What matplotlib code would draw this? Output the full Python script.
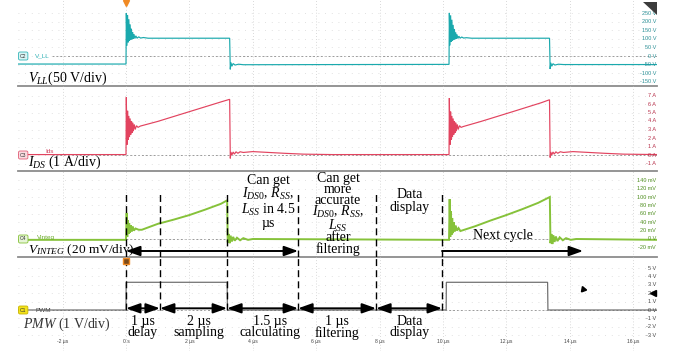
import matplotlib
matplotlib.use("Agg")
import matplotlib.pyplot as plt
from matplotlib.patches import Polygon

# ---- values (time in µs) ----
vll_t = [-3.45, 0.0, 0.01, 0.03, 0.05, 0.07, 0.09, 0.11, 0.13, 0.15, 0.17, 0.19, 0.21, 0.23, 0.25,
         0.28, 0.31, 0.35, 0.40, 0.46, 0.55, 0.70, 3.27, 3.29, 3.31, 3.34, 3.38, 3.44, 3.55, 3.70,
         10.19, 10.20, 10.22, 10.24, 10.26, 10.28, 10.30, 10.32, 10.34, 10.36, 10.38, 10.40, 10.42,
         10.44, 10.47, 10.50, 10.54, 10.59, 10.65, 10.74, 10.90, 13.36, 13.38, 13.40, 13.43, 13.47,
         13.53, 13.64, 13.80, 16.80]
vll_v = [-47, -47, 250, 60, 240, 80, 215, 90, 185, 95, 160, 98, 140, 100, 128,
         102, 118, 104, 112, 105, 108, 104, 104, -78, -38, -60, -44, -53, -48, -51,
         -49, 252, 62, 238, 82, 212, 90, 182, 95, 158, 98, 138, 100,
         126, 102, 116, 104, 111, 105, 107, 104, 104, -76, -40, -60, -45,
         -53, -48, -50, -50]

ids_t = [-3.45, 0.0, 0.01, 0.03, 0.05, 0.07, 0.09, 0.11, 0.13, 0.15, 0.17, 0.19, 0.21, 0.23, 0.26,
         0.29, 0.33, 0.38, 0.45, 1.0, 2.0, 3.0, 3.27, 3.29, 3.31, 3.34, 3.38, 3.42, 3.47, 3.53,
         3.60, 3.70, 4.0, 4.5, 5.0, 5.6, 6.5, 10.19, 10.20, 10.22, 10.24, 10.26, 10.28, 10.30,
         10.32, 10.34, 10.36, 10.38, 10.40, 10.42, 10.45, 10.48, 10.52, 10.57, 10.64, 11.2, 12.2,
         13.1, 13.36, 13.38, 13.40, 13.43, 13.47, 13.51, 13.56, 13.62, 13.70, 13.80, 14.1, 14.6,
         15.1, 15.7, 16.80]
ids_a = [0.05, 0.05, 6.8, 1.2, 5.2, 1.8, 4.6, 2.1, 4.3, 2.4, 4.0, 2.6, 3.8, 2.8, 3.6,
         3.0, 3.45, 3.25, 3.4, 3.95, 5.1, 6.25, 6.55, -0.4, 0.35, 0.0, 0.35, 0.1, 0.38, 0.2,
         0.38, 0.3, 0.4, 0.3, 0.2, 0.1, 0.05, 0.05, 6.7, 1.2, 5.1, 1.8, 4.6, 2.1,
         4.3, 2.4, 4.0, 2.6, 3.8, 2.8, 3.6, 3.0, 3.45, 3.25, 3.35, 3.95, 5.1,
         6.15, 6.5, -0.3, 0.35, 0.0, 0.35, 0.1, 0.38, 0.2, 0.38, 0.3, 0.4, 0.3,
         0.2, 0.1, 0.05]

integ_t = [-3.45, 0.0, 0.02, 0.04, 0.06, 0.08, 0.10, 0.12, 0.15, 0.18, 0.21, 0.25, 0.30, 0.40,
           0.5, 1.0, 1.5, 2.0, 2.5, 3.0, 3.19, 3.21, 3.24, 3.27, 3.30, 3.34, 3.38, 3.43, 3.50,
           3.60, 3.70, 3.85, 4.0, 10.19, 10.21, 10.23, 10.25, 10.27, 10.29, 10.31, 10.34, 10.37,
           10.40, 10.44, 10.49, 10.55, 11.0, 11.5, 12.0, 12.5, 13.0, 13.37, 13.39, 13.42, 13.45,
           13.48, 13.52, 13.56, 13.61, 13.68, 13.78, 13.88, 14.03, 14.2, 16.80]
integ_mv = [-2, -2, 62, 5, 45, 12, 38, 15, 33, 18, 30, 20, 25, 22,
            22, 36, 46, 57, 70, 84, 92, -8, 12, -10, 8, -6, 5, -4, 3,
            -3, 2, -2, 0, -2, 95, 5, 66, 10, 50, 14, 40, 18,
            32, 20, 26, 19, 30, 44, 57, 71, 86, 100, -10, 12, -12, 9,
            -7, 6, -5, 4, -3, 2, -2, 0, -2]

pwm_t = [-3.45, 0.0, 0.005, 3.19, 3.20, 10.10, 10.105, 13.30, 13.31, 16.80]
pwm_v = [0.0, 0.0, 3.3, 3.3, 0.0, 0.0, 3.3, 3.3, 0.0, 0.0]

vll_ticks = [250, 200, 150, 100, 50, 0, -50, -100, -150]
vll_labels = ["250 V", "200 V", "150 V", "100 V", "50 V", "0 V", "-50 V", "-100 V", "-150 V"]
ids_ticks = [7, 6, 5, 4, 3, 2, 1, 0, -1]
ids_labels = ["7 A", "6 A", "5 A", "4 A", "3 A", "2 A", "1 A", "0 A", "-1 A"]
integ_ticks = [140, 120, 100, 80, 60, 40, 20, 0, -20]
integ_labels = ["140 mV", "120 mV", "100 mV", "80 mV", "60 mV", "40 mV", "20 mV", "0 V", "-20 mV"]
pwm_ticks = [5, 4, 3, 2, 1, 0, -1, -2, -3]
pwm_labels = ["5 V", "4 V", "3 V", "2 V", "1 V", "0 V", "-1 V", "-2 V", "-3 V"]
time_ticks = [-2, 0, 2, 4, 6, 8, 10, 12, 14, 16]
time_labels = ["-2 µs", "0 s", "2 µs", "4 µs", "6 µs", "8 µs", "10 µs", "12 µs", "14 µs", "16 µs"]

phase_edges = [0.0, 1.07, 3.19, 5.43, 7.89, 9.97]
phase_names = ["1 µs\ndelay", "2 µs\nsampling", "1.5 µs\ncalculating", "1 µs\nfiltering",
               "Data\ndisplay"]
next_cycle_end = 14.42

# ---- layout in pixels of the 676x351 capture ----
W, H = 676, 351
LEFT, RIGHT = 18, 657
T0_PX, PX_PER_US = 126, 31.7

plt.rcParams["font.family"] = ["Liberation Sans", "DejaVu Sans"]
plt.rcParams["mathtext.fontset"] = "custom"
plt.rcParams["mathtext.rm"] = "Liberation Serif"
plt.rcParams["mathtext.it"] = "Liberation Serif:italic"
plt.rcParams["mathtext.bf"] = "Liberation Serif:bold"

SERIF = ["Liberation Serif", "DejaVu Serif"]

fig = plt.figure(figsize=(W / 100, H / 100), dpi=100)


def x_at(px):
    return (px - T0_PX) / PX_PER_US


def fig_xy(px, py):
    return px / W, 1 - py / H


def make_panel(top, bottom, zero_px, px_per_unit, ticks, sep=True):
    ax = fig.add_axes([LEFT / W, 1 - bottom / H, (RIGHT - LEFT) / W, (bottom - top) / H])
    ax.set_xlim(x_at(LEFT), x_at(RIGHT))
    ax.set_ylim((zero_px - bottom) / px_per_unit, (zero_px - top) / px_per_unit)
    ax.set_facecolor("none")
    ax.set_xticks(time_ticks)
    ax.set_yticks(ticks)
    ax.tick_params(length=0, labelbottom=False, labelleft=False)
    ax.xaxis.grid(True, color="#cccccc", lw=0.6, ls=(0, (1, 2.5)))
    ax.yaxis.grid(True, color="#d6d6d6", lw=0.6, ls=(0, (1, 7)))
    for name, sp in ax.spines.items():
        sp.set_visible(sep and name == "bottom")
    ax.spines["bottom"].set_color("#8c8c8c")
    ax.spines["bottom"].set_linewidth(1.3)
    return ax


def frac(ax, v):
    lo, hi = ax.get_ylim()
    return (v - lo) / (hi - lo)


ax1 = make_panel(0, 86, 56, 8.55 / 50, vll_ticks)
ax2 = make_panel(86, 171, 155, 8.5, ids_ticks)
ax3 = make_panel(171, 257, 239, 8.4 / 20, integ_ticks)
ax4 = make_panel(257, 351, 310, 8.4, pwm_ticks, sep=False)

channels = [
    (ax1, vll_t, vll_v, "#1aa9ad", vll_ticks, vll_labels, "#2a8f96", "C2", "#d9f4f4", "#35b5b8"),
    (ax2, ids_t, ids_a, "#e2435f", ids_ticks, ids_labels, "#b8304a", "C3", "#fadbe0", "#e06078"),
    (ax3, integ_t, integ_mv, "#86c23a", integ_ticks, integ_labels, "#4f8f1f", "C4", "#e6f4d6", "#86c23a"),
    (ax4, pwm_t, pwm_v, "#6a6a6a", pwm_ticks, pwm_labels, "#444444", "C1", "#f3e21a", "#c8b400"),
]

for ax, t, v, col, ticks, labels, lab_col, tag, tag_fc, tag_ec in channels:
    ax.axhline(0, xmin=(52 - LEFT) / (RIGHT - LEFT), color="#9a9a9a", lw=0.7,
               ls=(0, (2, 2)), zorder=1)
    lw = 1.4 if ax is ax3 else 0.85
    ax.plot(t, v, color=col, lw=lw, zorder=3, solid_joinstyle="miter")
    for tv, tl in zip(ticks, labels):
        ax.text(0.9985, tv, tl, transform=ax.get_yaxis_transform(), ha="right",
                va="center", fontsize=4.0, color=lab_col)
    ax.text(x_at(20), 0, tag, fontsize=3.6, ha="left", va="center", color="#333333",
            bbox=dict(boxstyle="round,pad=0.3", fc=tag_fc, ec=tag_ec, lw=0.6), zorder=5)

# channel names next to the tags
ax1.text(x_at(35), 0, "V_LL", fontsize=4.6, color="#2fb2b6", va="center", ha="left")
ax2.text(x_at(45), 0.45, "Ids", fontsize=4.6, color="#d0405c", va="center", ha="left")
ax3.text(x_at(37), 3, "Vinteg", fontsize=4.6, color="#6aaa2a", va="center", ha="left")
ax4.text(x_at(36), 0, "PWM", fontsize=4.6, color="#444444", va="center", ha="left")

# time axis labels
for tt, tl in zip(time_ticks, time_labels):
    ax4.text(tt, -3.7, tl, ha="center", va="center", fontsize=3.6, color="#444444")

# big channel captions
fig.text(*fig_xy(28, 78), "$V_{LL}$(50 V/div)", fontsize=10, family=SERIF, va="center")
fig.text(*fig_xy(28, 162), "$I_{DS}$ (1 A/div)", fontsize=10, family=SERIF, va="center")
fig.text(*fig_xy(28, 250), "$V_{INTEG}$ (20 mV/div)", fontsize=9.6, family=SERIF, va="center")
fig.text(*fig_xy(23, 324), "$PMW$ (1 V/div)", fontsize=10, family=SERIF, va="center",
         color="#333333")

# phase boundaries
dash_top = (239 - 192) / (8.4 / 20)
for e in phase_edges:
    ax3.axvline(e, ymin=0, ymax=frac(ax3, dash_top), color="k", lw=1.0, ls=(0, (5, 3)), zorder=4)
    ax4.axvline(e, ymin=frac(ax4, 0), ymax=1, color="k", lw=1.0, ls=(0, (5, 3)), zorder=4)

arrow = dict(arrowstyle="<|-|>,head_length=0.7,head_width=0.25", color="k", lw=1.4,
             mutation_scale=12, shrinkA=0, shrinkB=0)
for a, b in zip(phase_edges[:-1], phase_edges[1:]):
    ax4.annotate("", xy=(b, 0.2), xytext=(a, 0.2), arrowprops=arrow, zorder=6)

arrow_y = (239 - 251) / (8.4 / 20)
ax3.annotate("", xy=(phase_edges[3], arrow_y), xytext=(phase_edges[0], arrow_y),
             arrowprops=arrow, zorder=6)
ax3.annotate("", xy=(next_cycle_end, arrow_y), xytext=(phase_edges[5], arrow_y),
             arrowprops=dict(arrow, arrowstyle="-|>,head_length=0.7,head_width=0.25"), zorder=6)

# phase captions below the arrows
shift_px = [0, 5, 7, 0, 1]
for a, b, name, sh in zip(phase_edges[:-1], phase_edges[1:], phase_names, shift_px):
    ax4.text((a + b) / 2 + sh / PX_PER_US, -2.05, name, ha="center", va="center",
             fontsize=10, family=SERIF, linespacing=0.85)

# captions above the V_INTEG arrow
fig.text(*fig_xy(268, 202), "Can get\n$I_{DS0}$, $R_{SS}$,\n$L_{SS}$ in 4.5\nµs", ha="center",
         va="center", fontsize=10, family=SERIF, linespacing=0.95)
fig.text(*fig_xy(338, 214),
         "Can get\nmore\naccurate\n$I_{DS0}$, $R_{SS}$,\n$L_{SS}$\nafter\nfiltering",
         ha="center", va="center", fontsize=10, family=SERIF, linespacing=0.78)
fig.text(*fig_xy(410, 201), "Data\ndisplay", ha="center", va="center", fontsize=10,
         family=SERIF, linespacing=0.9)
fig.text(*fig_xy(503, 236), "Next cycle", ha="center", va="center", fontsize=10, family=SERIF)

# scope decorations: trigger markers, cursor, zoom icon
ax1.plot(0, 310, marker="v", color="#f08a24", ms=4, clip_on=False, zorder=7)
ax4.plot(0, 5.8, marker="s", mfc="#7a4a1a", mec="#f08a24", mew=1.0, ms=5, zorder=7)
ax4.plot(next_cycle_end, 2.5, marker=(3, 0, 20), color="k", ms=4.5, zorder=7)
ax4.plot(x_at(653), 2.0, marker="<", color="k", ms=4, zorder=7)
fig.patches.append(Polygon([fig_xy(643, 2), fig_xy(657, 2), fig_xy(657, 15)], closed=True,
                           transform=fig.transFigure, fc="#3c3c3c", ec="none"))

fig.savefig("out.png", dpi=100)
